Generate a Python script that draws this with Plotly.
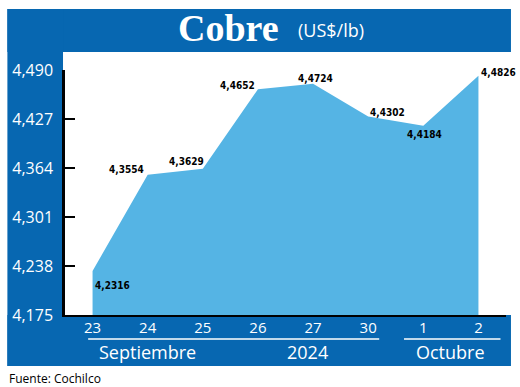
import plotly.graph_objects as go

# ---- data ----
days = ["23", "24", "25", "26", "27", "30", "1", "2"]
prices = [4.2316, 4.3554, 4.3629, 4.4652, 4.4724, 4.4302, 4.4184, 4.4826]
y_ticks = [4.175, 4.238, 4.301, 4.364, 4.427, 4.490]
month_labels = ["Septiembre", "2024", "Octubre"]
title_main = "Cobre"
title_unit = "(US$/lb)"
source = "Fuente: Cochilco"

# ---- style ----
BLUE = "#0767b1"
AREA = "#55b4e4"
W, H = 520, 387
L, R, T, B = 62, 506, 70, 315  # plot area in pixels

def xp(px):
    return (px - L) / (R - L)

def yp(py):
    return (B - py) / (B - T)

fig = go.Figure()
fig.add_trace(go.Scatter(
    x=list(range(len(days))), y=prices, mode="lines", fill="tozeroy",
    fillcolor=AREA, line=dict(width=0, color=AREA), hoverinfo="skip",
))

shapes = [
    dict(type="rect", xref="paper", yref="paper", x0=xp(4), x1=xp(511), y0=yp(52), y1=yp(9),
         fillcolor=BLUE, line_width=0, layer="below"),
    dict(type="rect", xref="paper", yref="paper", x0=xp(4), x1=xp(60), y0=yp(366), y1=yp(9),
         fillcolor=BLUE, line_width=0, layer="below"),
    dict(type="rect", xref="paper", yref="paper", x0=xp(4), x1=xp(511), y0=yp(366), y1=yp(315),
         fillcolor=BLUE, line_width=0, layer="below"),
    dict(type="line", xref="x", yref="paper", x0=-0.08, x1=5.2, y0=yp(339), y1=yp(339),
         line=dict(color="white", width=1.5)),
    dict(type="line", xref="x", yref="paper", x0=5.65, x1=7.4, y0=yp(339), y1=yp(339),
         line=dict(color="white", width=1.5)),
]

annotations = []
# data labels
label_style = [
    ("left", 0, -15), ("right", -2, 5), ("right", 3, 7), ("right", -1, 4),
    ("center", 2, 5), ("left", 0, 4), ("center", 1, -9), ("left", 1, 3),
]
for i, (v, (xa, xs, ys)) in enumerate(zip(prices, label_style)):
    annotations.append(dict(
        x=i, y=v, xref="x", yref="y", text=f"{v:.4f}".replace(".", ","),
        showarrow=False, xanchor=xa, yanchor="middle", xshift=xs, yshift=ys,
        font=dict(family="DejaVu Sans Condensed, Liberation Sans Narrow, Arial Narrow",
                  size=10, color="black", weight="bold"),
    ))
# month / year labels
for text, xpos in zip(month_labels, [1.0, 3.9, 6.5]):
    annotations.append(dict(
        x=xpos, y=yp(352), xref="x", yref="paper", text=text, showarrow=False,
        xanchor="center", yanchor="middle",
        font=dict(family="Open Sans", size=18, color="white"),
    ))
# title
annotations.append(dict(
    x=xp(227), y=yp(28), xref="paper", yref="paper", text=title_main, showarrow=False,
    xanchor="center", yanchor="middle",
    font=dict(family="Liberation Serif", size=38, color="white", weight="bold"),
))
annotations.append(dict(
    x=xp(330), y=yp(30), xref="paper", yref="paper", text=title_unit, showarrow=False,
    xanchor="center", yanchor="middle",
    font=dict(family="Open Sans", size=18, color="white"),
))
annotations.append(dict(
    x=xp(4), y=yp(378), xref="paper", yref="paper", text=source, showarrow=False,
    xanchor="left", yanchor="middle",
    font=dict(family="Open Sans", size=12, color="black"),
))

fig.update_layout(
    width=W, height=H, autosize=False,
    margin=dict(l=L, r=W - R, t=T, b=H - B, pad=0),
    paper_bgcolor="white", plot_bgcolor="rgba(0,0,0,0)",
    separators=",.",
    showlegend=False,
    shapes=shapes, annotations=annotations,
    xaxis=dict(
        range=[-0.5, len(days) - 0.5], tickmode="array",
        tickvals=list(range(len(days))), ticktext=days,
        showgrid=False, zeroline=False, showline=True, linecolor="black", linewidth=2,
        ticks="", layer="below traces",
        tickfont=dict(family="Open Sans", size=15, color="white"),
        ticklabelstandoff=-2,
    ),
    yaxis=dict(
        range=[y_ticks[0], y_ticks[-1]], tickmode="array", tickvals=y_ticks,
        tickformat=".3f", showgrid=False, zeroline=False,
        showline=True, linecolor="black", linewidth=2.5,
        ticks="inside", ticklen=10, tickwidth=2, tickcolor="black",
        tickfont=dict(family="Open Sans", size=16, color="white"),
        ticklabelstandoff=6,
    ),
)

fig.write_html("out.html")
